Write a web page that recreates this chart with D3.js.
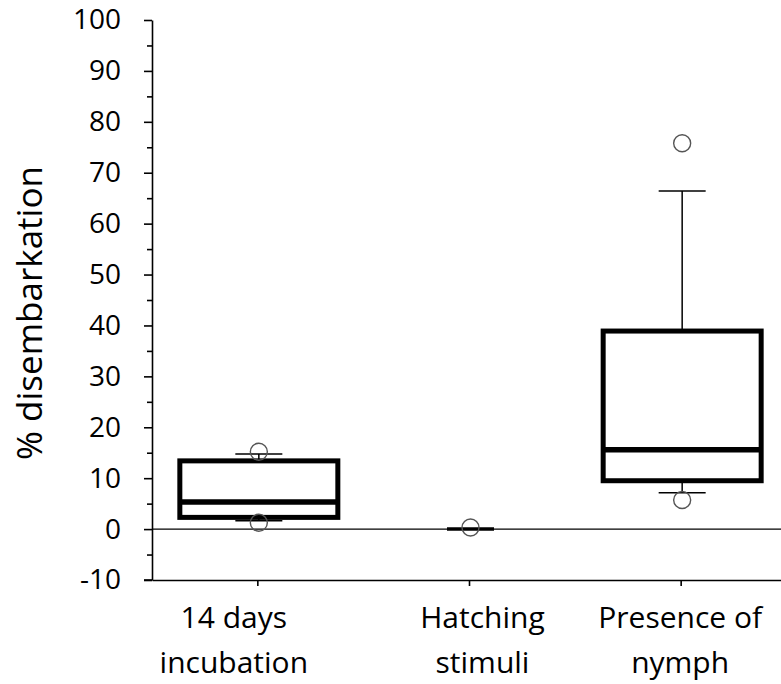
<!DOCTYPE html>
<html>
<head>
<meta charset="utf-8">
<script src="https://cdn.jsdelivr.net/npm/d3@7"></script>
<style>
  html, body { margin: 0; padding: 0; background: #fff; }
  svg { display: block; }
  text { font-family: "Open Sans", "DejaVu Sans", sans-serif; fill: #000; }
</style>
</head>
<body>
<script>
// Disembarkation (%) by treatment: box-and-whisker summary per group
const categories = ["14 days incubation", "Hatching stimuli", "Presence of nymph"];
const labelLines = [["14 days", "incubation"], ["Hatching", "stimuli"], ["Presence of", "nymph"]];
const whiskerLow = [1.65, 0, 7.15];
const q1 = [2.3, 0, 9.5];
const medians = [5.3, 0, 15.6];
const q3 = [13.4, 0, 38.9];
const whiskerHigh = [14.75, 0, 66.4];
const outliers = [[15.2, 1.25], [0.3], [75.8, 5.7]];
const yMajorTicks = [-10, 0, 10, 20, 30, 40, 50, 60, 70, 80, 90, 100];
const yLabel = "% disembarkation";

const W = 781, H = 684;
const svg = d3.select("body").append("svg")
  .attr("width", W).attr("height", H)
  .attr("viewBox", `0 0 ${W} ${H}`);

const x = d3.scaleBand().domain(categories).range([152, 787]).padding(0);
const y = d3.scaleLinear().domain([-10, 100]).range([580, 20]);

const boxHalf = 79;
const capHalf = 23.5;
const labelNudge = [-24, 13, -1];

// Y axis: major ticks with labels (plain hyphen for negatives), minor ticks every 5
const yAxis = svg.append("g").attr("transform", "translate(152,0)")
  .call(d3.axisLeft(y).tickValues(yMajorTicks).tickSize(8).tickSizeOuter(0).tickPadding(23)
    .tickFormat(v => String(v)));
yAxis.select(".domain").attr("stroke", "#000").attr("stroke-width", 1.6);
yAxis.selectAll(".tick line").attr("stroke", "#000").attr("stroke-width", 1.6);
yAxis.selectAll(".tick text")
  .attr("font-size", 28).attr("font-family", "'Open Sans', sans-serif").attr("fill", "#000");

const minor = yMajorTicks.slice(0, -1).map(v => v + 5);
svg.append("g").attr("transform", "translate(152,0)")
  .call(d3.axisLeft(y).tickValues(minor).tickSize(5).tickSizeOuter(0).tickFormat(""))
  .call(g => g.select(".domain").remove())
  .selectAll(".tick line").attr("stroke", "#000").attr("stroke-width", 1.6);

// X axis along the bottom of the plot
const xAxis = svg.append("g").attr("transform", `translate(0,${y(-10)})`)
  .call(d3.axisBottom(x).tickSize(6).tickSizeOuter(0).tickFormat(""));
xAxis.select(".domain").attr("stroke", "#000").attr("stroke-width", 1.6);
xAxis.selectAll(".tick line").attr("stroke", "#000").attr("stroke-width", 1.6);
// short left extension where the -10 tick meets the base line
svg.append("line")
  .attr("x1", 144).attr("x2", 152).attr("y1", y(-10)).attr("y2", y(-10))
  .attr("stroke", "#000").attr("stroke-width", 1.6);

// Category labels (two lines each)
categories.forEach((c, i) => {
  const cx = x(c) + x.bandwidth() / 2 + labelNudge[i];
  const t = svg.append("text")
    .attr("text-anchor", "middle")
    .attr("font-size", 30);
  labelLines[i].forEach((line, j) => {
    t.append("tspan").attr("x", cx).attr("y", 628 + j * 45).text(line);
  });
});

// Y axis title
svg.append("text")
  .attr("transform", `translate(42,${313}) rotate(-90)`)
  .attr("text-anchor", "middle")
  .attr("font-size", 35)
  .text(yLabel);

// Zero reference line
svg.append("line")
  .attr("x1", 152).attr("x2", W)
  .attr("y1", y(0)).attr("y2", y(0))
  .attr("stroke", "#000").attr("stroke-width", 1.4);

// Boxes
const groups = svg.append("g").selectAll("g")
  .data(categories.map((c, i) => ({
    c, i, lo: whiskerLow[i], q1: q1[i], med: medians[i], q3: q3[i], hi: whiskerHigh[i], out: outliers[i]
  })))
  .join("g")
  .attr("transform", d => `translate(${x(d.c) + x.bandwidth() / 2 + 1},0)`);

// whisker stems
groups.filter(d => d.q3 > d.q1).each(function (d) {
  const g = d3.select(this);
  g.append("line").attr("x1", 0).attr("x2", 0)
    .attr("y1", y(d.q3)).attr("y2", y(d.hi))
    .attr("stroke", "#000").attr("stroke-width", 1.5);
  g.append("line").attr("x1", 0).attr("x2", 0)
    .attr("y1", y(d.q1)).attr("y2", y(d.lo))
    .attr("stroke", "#000").attr("stroke-width", 1.5);
});

// whisker caps
groups.each(function (d) {
  const g = d3.select(this);
  [d.lo, d.hi].forEach(v => {
    g.append("line").attr("x1", -capHalf).attr("x2", capHalf)
      .attr("y1", y(v)).attr("y2", y(v))
      .attr("stroke", "#000").attr("stroke-width", 1.5);
  });
});

// box body and median
groups.filter(d => d.q3 > d.q1).each(function (d) {
  const g = d3.select(this);
  g.append("rect")
    .attr("x", -boxHalf).attr("width", boxHalf * 2)
    .attr("y", y(d.q3)).attr("height", y(d.q1) - y(d.q3))
    .attr("fill", "none").attr("stroke", "#000").attr("stroke-width", 5);
  g.append("line").attr("x1", -boxHalf).attr("x2", boxHalf)
    .attr("y1", y(d.med)).attr("y2", y(d.med))
    .attr("stroke", "#000").attr("stroke-width", 5.5);
});

// collapsed group: median drawn as a thick bar at cap width
groups.filter(d => !(d.q3 > d.q1)).append("line")
  .attr("x1", -capHalf).attr("x2", capHalf)
  .attr("y1", d => y(d.med)).attr("y2", d => y(d.med))
  .attr("stroke", "#000").attr("stroke-width", 3.5);

// outliers
groups.each(function (d) {
  d3.select(this).selectAll("circle.out").data(d.out).join("circle")
    .attr("class", "out")
    .attr("cx", 0).attr("cy", v => y(v)).attr("r", 8.5)
    .attr("fill", "none").attr("stroke", "#555").attr("stroke-width", 1.4);
});
</script>
</body>
</html>
